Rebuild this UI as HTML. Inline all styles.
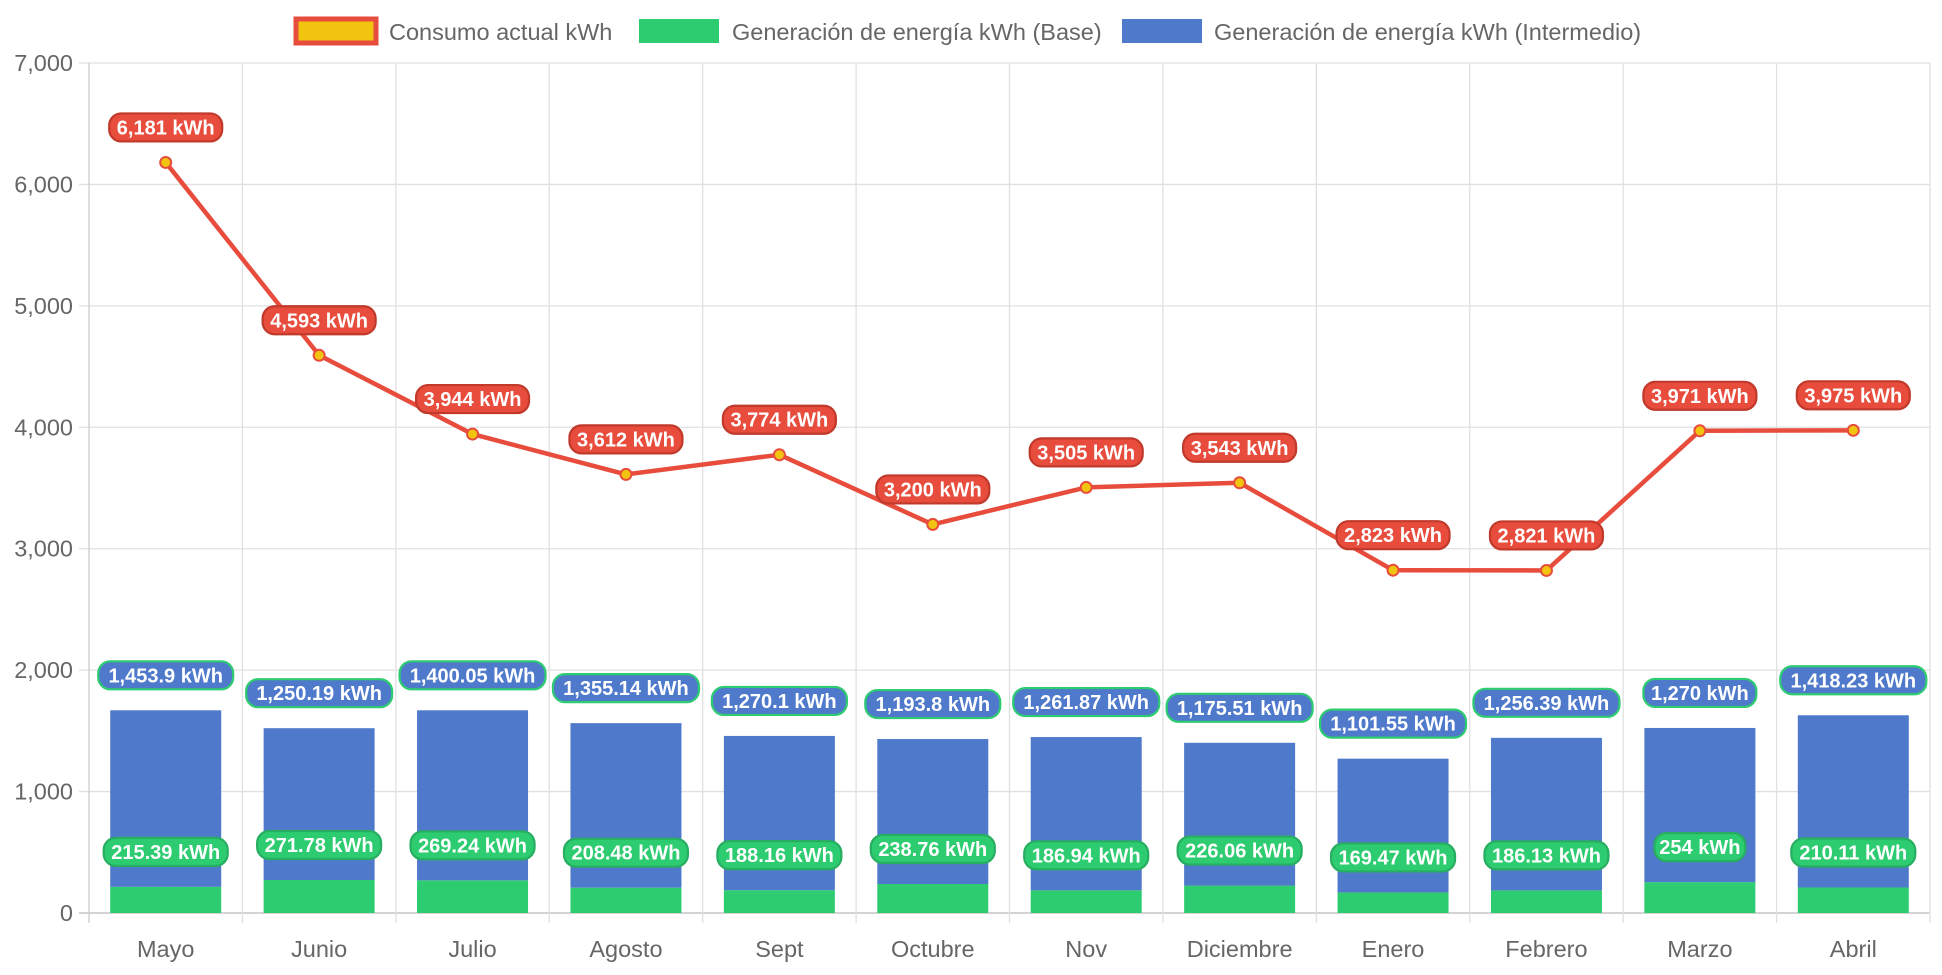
<!DOCTYPE html>
<html><head><meta charset="utf-8"><style>
body{margin:0;background:#fff;width:1942px;height:970px;overflow:hidden}
text{font-family:"Liberation Sans",Arial,sans-serif}
</style></head><body>
<svg id="chart" width="1942" height="970" xmlns="http://www.w3.org/2000/svg">
<g id="legend">
<g><rect x="296" y="19" width="80" height="24" fill="#f1c40f" stroke="#e74c3c" stroke-width="5"/><text x="389" y="40" font-size="23.5" fill="#666">Consumo actual kWh</text></g>
<g><rect x="639" y="19" width="80" height="24" fill="#2ecc71"/><text x="732" y="40" font-size="23.5" fill="#666">Generación de energía kWh (Base)</text></g>
<g><rect x="1122" y="19" width="80" height="24" fill="#4f7acb"/><text x="1214" y="40" font-size="23.5" fill="#666">Generación de energía kWh (Intermedio)</text></g>
</g>
<g id="grid"></g><g id="bars"></g><g id="line"></g><g id="labels"></g>
</svg>
<script>
const categories=["Mayo","Junio","Julio","Agosto","Sept","Octubre","Nov","Diciembre","Enero","Febrero","Marzo","Abril"];
const consumo=[6181,4593,3944,3612,3774,3200,3505,3543,2823,2821,3971,3975];
const base=[215.39,271.78,269.24,208.48,188.16,238.76,186.94,226.06,169.47,186.13,254,210.11];
const intermedio=[1453.9,1250.19,1400.05,1355.14,1270.1,1193.8,1261.87,1175.51,1101.55,1256.39,1270,1418.23];
const yTicks=[0,1000,2000,3000,4000,5000,6000,7000];
const NS="http://www.w3.org/2000/svg";
const L=89,R=1930,T=63,B=913,YMAX=7000;
const cw=(R-L)/categories.length;
const xC=i=>L+cw*(i+0.5);
const y=v=>B-(v/YMAX)*(B-T);
function mk(tag,attrs,parent){const e=document.createElementNS(NS,tag);for(const k in attrs)e.setAttribute(k,attrs[k]);parent.appendChild(e);return e;}
const grid=document.getElementById('grid'),bars=document.getElementById('bars'),line=document.getElementById('line'),labels=document.getElementById('labels');
const fmt=v=>v.toLocaleString('en-US',{maximumFractionDigits:2});
yTicks.forEach(t=>{
  const g=mk('line',{x1:L-10,x2:R,y1:y(t),y2:y(t),stroke:t===0?'#bbb':'#e0e0e0','stroke-width':1.3},grid);
  
  
  const tx=mk('text',{x:L-16,y:y(t)+8,'text-anchor':'end','font-size':23.5,fill:'#666'},grid);
  tx.textContent=t.toLocaleString('en-US');
  
  
});
for(let i=0;i<=categories.length;i++){
  const gx=L+cw*i;
  const g=mk('line',{x1:gx,x2:gx,y1:T,y2:B+10,stroke:i===0?'#ccc':'#e0e0e0','stroke-width':1.3},grid);
  
  
}
categories.forEach((c,i)=>{
  const tx=mk('text',{x:xC(i),y:957,'text-anchor':'middle','font-size':23.5,fill:'#666'},grid);
  tx.textContent=c;
  
  
});
function label(cx,cy,text,bg,border){
  const g=mk('g',{},labels);
  const w=text.length*11+14;
  mk('rect',{x:cx-w/2,y:cy-14,width:w,height:28,rx:12,fill:bg,stroke:border,'stroke-width':2.2},g);
  const t=mk('text',{x:cx,y:cy+7,'text-anchor':'middle','font-size':20,'font-weight':'bold',fill:'#fff'},g);
  t.textContent=text;
  return g;
}
const bw=111;
categories.forEach((c,i)=>{
  const gb=mk('rect',{x:xC(i)-bw/2,y:y(base[i]),width:bw,height:B-y(base[i]),fill:'#2ecc71'},bars);
  
  
  const top=base[i]+intermedio[i];
  const bb=mk('rect',{x:xC(i)-bw/2,y:y(top),width:bw,height:y(base[i])-y(top),fill:'#4f7acb'},bars);
  
  
  const l1=label(xC(i),y(base[i])-35,fmt(base[i])+' kWh','#2ecc71','#27ae60');
  
  
  const l2=label(xC(i),y(top)-35,fmt(intermedio[i])+' kWh','#4f7acb','#2ecc71');
  
  
});
const pts=consumo.map((v,i)=>xC(i)+','+y(v)).join(' ');
const pl=mk('polyline',{points:pts,fill:'none',stroke:'#e74c3c','stroke-width':4.5,'stroke-linejoin':'round'},line);


consumo.forEach((v,i)=>{
  const p=mk('circle',{cx:xC(i),cy:y(v),r:5.5,fill:'#f1c40f',stroke:'#e74c3c','stroke-width':2},line);
  
  
  const l=label(xC(i),y(v)-35,fmt(v)+' kWh','#e74c3c','#c0392b');
  
  
});
</script>
</body></html>
